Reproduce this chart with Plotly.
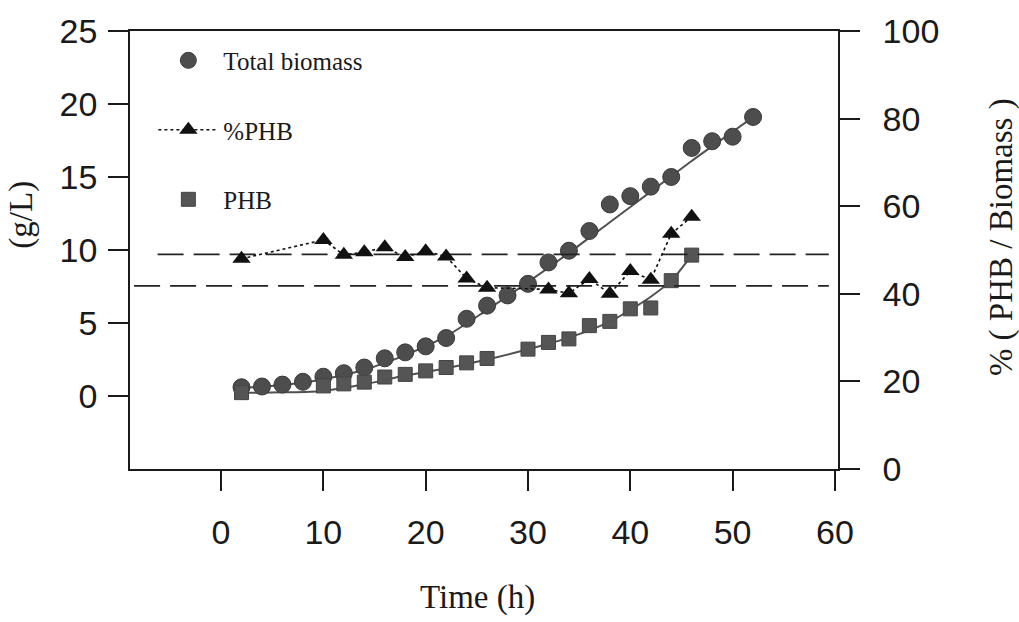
import plotly.graph_objects as go

# ---- measured data -------------------------------------------------------
t_biomass = [2, 4, 6, 8, 10, 12, 14, 16, 18, 20, 22, 24, 26,
             28, 30, 32, 34, 36, 38, 40, 42, 44, 46, 48, 50, 52]
biomass = [0.6, 0.65, 0.78, 0.97, 1.32, 1.56, 1.95, 2.58, 2.99, 3.40, 3.97, 5.29, 6.19,
           6.89, 7.68, 9.15, 9.95, 11.3, 13.12, 13.69, 14.34, 15.0, 16.99, 17.45, 17.76, 19.11]

t_phb = [2, 10, 12, 14, 16, 18, 20, 22, 24, 26, 30, 32, 34, 36, 38, 40, 42, 44, 46]
phb = [0.23, 0.69, 0.83, 0.95, 1.30, 1.48, 1.72, 1.95, 2.27, 2.57,
       3.21, 3.67, 3.91, 4.82, 5.11, 5.97, 6.03, 7.90, 9.65]

t_pct = [2, 10, 12, 14, 16, 18, 20, 22, 24, 26, 32, 34, 36, 38, 40, 42, 44, 46]
pct_phb = [48.0, 52.3, 48.9, 49.5, 50.6, 48.4, 49.7, 48.5, 43.5, 41.4,
           41.0, 40.1, 43.4, 40.0, 45.2, 43.2, 53.7, 57.6]

# ---- fitted curves ---------------------------------------------------------
bio_fit_t = [2, 6, 10, 14, 18, 22, 26, 30, 34, 38, 42, 46, 50, 52]
bio_fit = [0.55, 0.75, 1.15, 1.8, 2.8, 4.1, 5.9, 7.8, 9.8, 11.9, 14.0, 16.1, 18.1, 19.1]

phb_fit_t = [2, 6, 10, 14, 18, 22, 26, 30, 34, 38, 40, 42, 44, 46]
phb_fit = [0.22, 0.25, 0.35, 0.8, 1.4, 1.9, 2.5, 3.2, 4.0, 5.1, 5.9, 6.8, 7.9, 9.65]

# ---- reference levels of %PHB (right axis) ---------------------------------
level_hi = 49.0
level_lo = 41.8
level_hi_t = [-6.2, 59.4]
level_lo_t = [-8.5, 59.4]

# ---- tick labels -----------------------------------------------------------
x_ticks = [0, 10, 20, 30, 40, 50, 60]
y_ticks = [0, 5, 10, 15, 20, 25]
y2_ticks = [0, 20, 40, 60, 80, 100]

SERIF = "Liberation Serif"
SANS = "Liberation Sans"
INK = "#1a1a1a"

fig = go.Figure()

# fitted curves (drawn first so markers sit on top)
fig.add_trace(go.Scatter(x=bio_fit_t, y=bio_fit, mode="lines",
                         line=dict(color="#505050", width=2, shape="spline", smoothing=0.8),
                         showlegend=False, hoverinfo="skip"))
fig.add_trace(go.Scatter(x=phb_fit_t, y=phb_fit, mode="lines",
                         line=dict(color="#505050", width=2, shape="spline", smoothing=0.8),
                         showlegend=False, hoverinfo="skip"))

# horizontal dashed levels on the right-hand scale
for xs, lv in ((level_hi_t, level_hi), (level_lo_t, level_lo)):
    fig.add_trace(go.Scatter(x=xs, y=[lv, lv], yaxis="y2", mode="lines",
                             line=dict(color="#222222", width=1.6, dash="26px,10px"),
                             showlegend=False, hoverinfo="skip"))

fig.add_trace(go.Scatter(x=t_biomass, y=biomass, mode="markers", name="Total biomass",
                         legendgroup="a",
                         marker=dict(symbol="circle", size=17, color="#4d4d4d",
                                     line=dict(color="#3a3a3a", width=1))))
fig.add_trace(go.Scatter(x=t_pct, y=pct_phb, yaxis="y2", mode="lines+markers", name="%PHB",
                         legendgroup="b",
                         line=dict(color="#111111", width=1.6, dash="dot"),
                         marker=dict(symbol="triangle-up", size=16, color="#111111")))
fig.add_trace(go.Scatter(x=t_phb, y=phb, mode="markers", name="PHB",
                         legendgroup="c",
                         marker=dict(symbol="square", size=14, color="#555555",
                                     line=dict(color="#444444", width=1))))

axis_common = dict(showgrid=False, zeroline=False, showline=True, linecolor=INK,
                   linewidth=1.6, ticks="outside", tickcolor=INK, tickwidth=1.6,
                   ticklen=20, tickfont=dict(family=SANS, size=34, color=INK))

fig.update_layout(
    width=1019, height=622,
    paper_bgcolor="white", plot_bgcolor="white",
    margin=dict(l=130, r=181, t=28, b=153),
    xaxis=dict(range=[-8.9, 60.3], tickvals=x_ticks, mirror=True,
               ticklabelstandoff=12, **axis_common),
    yaxis=dict(range=[-5, 25], tickvals=y_ticks, ticklabelstandoff=4, **axis_common),
    yaxis2=dict(range=[0, 100], tickvals=y2_ticks, overlaying="y", side="right",
                ticklabelstandoff=16, **axis_common),
    showlegend=True,
    legend=dict(x=0.033, y=0.985, xanchor="left", yanchor="top",
                bgcolor="rgba(0,0,0,0)", tracegroupgap=34, itemwidth=60,
                font=dict(family=SERIF, size=25, color=INK)),
    annotations=[
        dict(text="Time (h)", xref="paper", yref="paper", x=0.4915, y=-0.2925,
             xanchor="center", yanchor="middle", showarrow=False,
             font=dict(family=SERIF, size=33, color=INK)),
        dict(text="(g/L)", xref="paper", yref="paper", x=-0.153, y=0.58,
             xanchor="center", yanchor="middle", showarrow=False, textangle=-90,
             font=dict(family=SERIF, size=33, color=INK)),
        dict(text="% ( PHB / Biomass )", xref="paper", yref="paper", x=1.232, y=0.53,
             xanchor="center", yanchor="middle", showarrow=False, textangle=-90,
             font=dict(family=SERIF, size=33, color=INK)),
    ],
)

fig.write_html("out.html")
